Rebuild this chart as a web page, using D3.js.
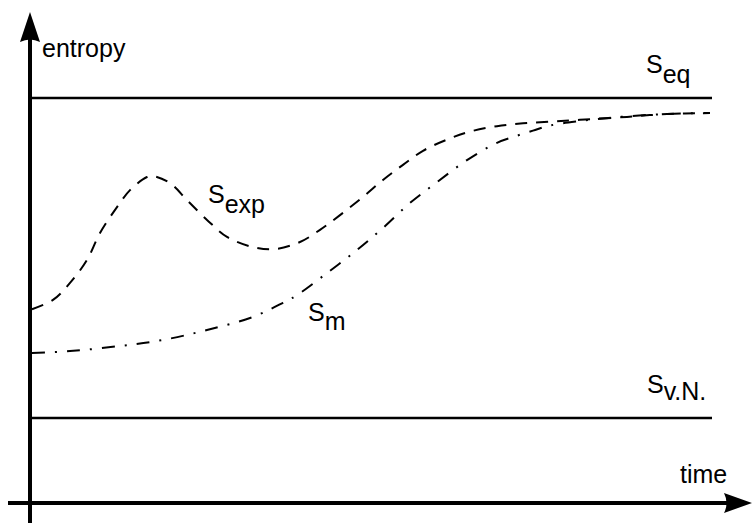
<!DOCTYPE html>
<html>
<head>
<meta charset="utf-8">
<script src="https://cdn.jsdelivr.net/npm/d3@7"></script>
<style>
  html, body { margin: 0; padding: 0; background: #fff; }
  text { font-family: "Liberation Sans", Arial, sans-serif; font-size: 25px; fill: #000; }
</style>
</head>
<body>
<div id="chart"></div>
<script>
// time (arbitrary units) and entropy (0 = S_v.N., 1 = S_eq)
const expTime = [0, 21, 38, 55, 68, 85, 98, 115, 121, 138, 155, 175, 195, 221, 243, 268, 288, 308, 331, 351, 371, 391, 415, 438, 465, 491, 518, 548, 595, 635, 678];
const expEntropy = [0.34, 0.369, 0.422, 0.494, 0.578, 0.659, 0.712, 0.753, 0.756, 0.734, 0.681, 0.619, 0.566, 0.534, 0.528, 0.55, 0.588, 0.634, 0.691, 0.744, 0.791, 0.835, 0.87, 0.895, 0.912, 0.921, 0.926, 0.932, 0.941, 0.95, 0.953];

const mTime = [0, 38, 88, 131, 175, 221, 251, 265, 295, 325, 351, 378, 405, 435, 465, 481, 501, 518, 548, 588, 635, 678];
const mEntropy = [0.203, 0.209, 0.225, 0.244, 0.275, 0.316, 0.36, 0.384, 0.453, 0.525, 0.594, 0.672, 0.737, 0.806, 0.86, 0.878, 0.898, 0.914, 0.928, 0.941, 0.95, 0.953];

const levels = [1, 0];            // S_eq, S_v.N.
const levelNames = ['eq', 'v.N.'];

const width = 752, height = 523;

const svg = d3.select('#chart').append('svg')
    .attr('width', width)
    .attr('height', height);

const x = d3.scaleLinear().domain([0, 680]).range([32, 712]);
const y = d3.scaleLinear().domain([0, 1]).range([418, 98]);

const axisX = 30;   // vertical axis position
const axisY = 503;  // horizontal axis position

// axes with arrow heads
svg.append('line')
    .attr('x1', axisX).attr('y1', height)
    .attr('x2', axisX).attr('y2', 30)
    .attr('stroke', '#000').attr('stroke-width', 4);
svg.append('path')
    .attr('d', `M${axisX},12 L${axisX + 10},42 Q${axisX},37 ${axisX - 10},42 Z`)
    .attr('fill', '#000');

svg.append('line')
    .attr('x1', 8).attr('y1', axisY)
    .attr('x2', 735).attr('y2', axisY)
    .attr('stroke', '#000').attr('stroke-width', 4);
svg.append('path')
    .attr('d', `M752,${axisY} L724,${axisY - 10} Q729,${axisY} 724,${axisY + 10} Z`)
    .attr('fill', '#000');

svg.append('text').attr('x', 42).attr('y', 57).text('entropy');
svg.append('text').attr('x', 680).attr('y', 483).text('time');

// level lines
svg.selectAll('.level')
    .data(levels)
    .enter().append('line')
    .attr('class', 'level')
    .attr('x1', axisX).attr('x2', x(680))
    .attr('y1', d => y(d)).attr('y2', d => y(d))
    .attr('stroke', '#000').attr('stroke-width', 2.5);

// curves
const line = d3.line()
    .x(d => x(d[0]))
    .y(d => y(d[1]))
    .curve(d3.curveCatmullRom.alpha(0.5));

svg.append('path')
    .datum(expTime.map((t, i) => [t, expEntropy[i]]))
    .attr('d', line)
    .attr('fill', 'none')
    .attr('stroke', '#000')
    .attr('stroke-width', 2)
    .attr('stroke-dasharray', '12,9');

svg.append('path')
    .datum(mTime.map((t, i) => [t, mEntropy[i]]))
    .attr('d', line)
    .attr('fill', 'none')
    .attr('stroke', '#000')
    .attr('stroke-width', 2)
    .attr('stroke-dasharray', '13,10,2,10');

// labels: S with subscript
const labels = [
    { sub: levelNames[0], x: 646, y: 73, dy: 10 },
    { sub: levelNames[1], x: 647, y: 393, dy: 7 },
    { sub: 'exp', x: 208, y: 203, dy: 10 },
    { sub: 'm', x: 308, y: 321, dy: 9 }
];

labels.forEach(l => {
    const t = svg.append('text').attr('x', l.x).attr('y', l.y);
    t.append('tspan').text('S');
    t.append('tspan').attr('dy', l.dy).text(l.sub);
});
</script>
</body>
</html>
